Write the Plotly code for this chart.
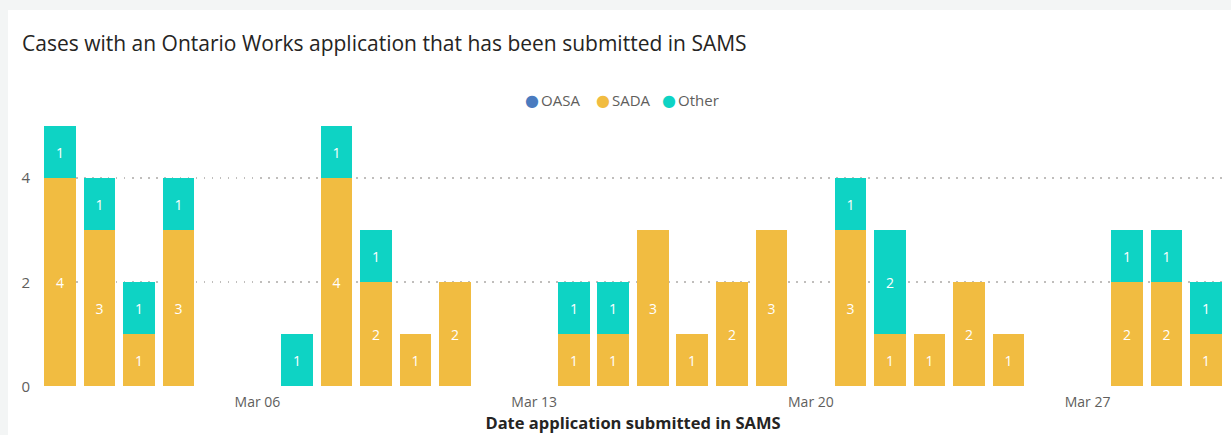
import plotly.graph_objects as go

# ---- data ----
dates = ["2022-03-01", "2022-03-02", "2022-03-03", "2022-03-04", "2022-03-07",
         "2022-03-08", "2022-03-09", "2022-03-10", "2022-03-11", "2022-03-14",
         "2022-03-15", "2022-03-16", "2022-03-17", "2022-03-18", "2022-03-19",
         "2022-03-21", "2022-03-22", "2022-03-23", "2022-03-24", "2022-03-25",
         "2022-03-28", "2022-03-29", "2022-03-30"]
oasa = [0] * 23
sada = [4, 3, 1, 3, 0, 4, 2, 1, 2, 1, 1, 3, 1, 2, 3, 3, 1, 1, 2, 1, 2, 2, 1]
other = [1, 1, 1, 1, 1, 1, 1, 0, 0, 1, 1, 0, 0, 0, 0, 1, 2, 0, 0, 0, 1, 1, 1]
series_names = ["OASA", "SADA", "Other"]
series_colors = ["#4a7bbf", "#f1bc41", "#0ed3c4"]
tick_dates = ["2022-03-06", "2022-03-13", "2022-03-20", "2022-03-27"]
y_ticks = [0, 2, 4]

title_text = "Cases with an Ontario Works application that has been submitted in SAMS"
x_title = "Date application submitted in SAMS"

FONT = "Segoe UI, Open Sans, sans-serif"
GREY = "#605e5c"
DAY_MS = 86400000

fig = go.Figure()
for name, vals, col in zip(series_names, [oasa, sada, other], series_colors):
    fig.add_trace(go.Bar(
        x=dates, y=vals, name=name, marker=dict(color=col, line=dict(width=0)),
        width=0.8 * DAY_MS,
        text=[str(v) if v else "" for v in vals],
        textposition="inside", insidetextanchor="middle", textangle=0,
        textfont=dict(color="white", size=14, family=FONT),
        showlegend=False, hoverinfo="x+y+name",
    ))

W, H = 1231, 435
L, R, T, B = 44, 9, 126, 48
pw, ph = W - L - R, H - T - B

def px_x(p):
    return (p - L) / pw

def px_y(p):
    return (H - B - p) / ph

# legend entries drawn from the series names/colours
legend_dot_px = [532, 603, 669]
legend_text_px = [539, 610, 676]
legend_annotations = []
for n, c, dx, tx in zip(series_names, series_colors, legend_dot_px, legend_text_px):
    legend_annotations.append(dict(
        text="●", xref="paper", yref="paper", x=px_x(dx), y=px_y(100),
        xanchor="center", yanchor="middle", showarrow=False,
        font=dict(size=16, color=c, family="DejaVu Sans")))
    legend_annotations.append(dict(
        text=n, xref="paper", yref="paper", x=px_x(tx), y=px_y(100),
        xanchor="left", yanchor="middle", showarrow=False,
        font=dict(size=15, color=GREY, family=FONT)))

fig.update_layout(
    width=W, height=H,
    margin=dict(l=L, r=R, t=T, b=B, pad=0),
    barmode="stack",
    bargap=0,
    paper_bgcolor="#f3f5f5",
    plot_bgcolor="rgba(0,0,0,0)",
    font=dict(family=FONT, color=GREY, size=14),
    title=dict(text=title_text, x=22 / W, xanchor="left", xref="container",
               y=1 - 44 / H, yanchor="middle", yref="container",
               font=dict(size=21, color="#252423", family=FONT)),
    xaxis=dict(
        type="date",
        range=["2022-02-28 14:24", "2022-03-30 09:36"],
        tickvals=tick_dates, tickformat="%b %d",
        showgrid=False, zeroline=False, showline=False,
        ticks="outside", ticklen=2, tickcolor="rgba(0,0,0,0)",
        tickfont=dict(size=14, color=GREY),
        title=dict(text="<b>" + x_title + "</b>", standoff=3,
                   font=dict(size=16.5, color="#252423")),
    ),
    yaxis=dict(
        range=[-0.01, 5], tickvals=y_ticks,
        showgrid=True, gridcolor="#c0bebc", griddash="1.5px,6.5px", gridwidth=1.5,
        zeroline=False, showline=False,
        ticks="outside", ticklen=10, tickcolor="rgba(0,0,0,0)",
        tickfont=dict(size=15, color=GREY),
    ),
    shapes=[dict(type="rect", xref="paper", yref="paper", layer="below",
                 x0=px_x(8), x1=px_x(W + 5), y0=px_y(H + 5), y1=px_y(10),
                 fillcolor="white", line=dict(width=0))],
    annotations=legend_annotations,
)

fig.write_html("out.html",
               config={"displayModeBar": False},
               post_script="document.body.style.margin='0';document.body.style.overflow='hidden';")
